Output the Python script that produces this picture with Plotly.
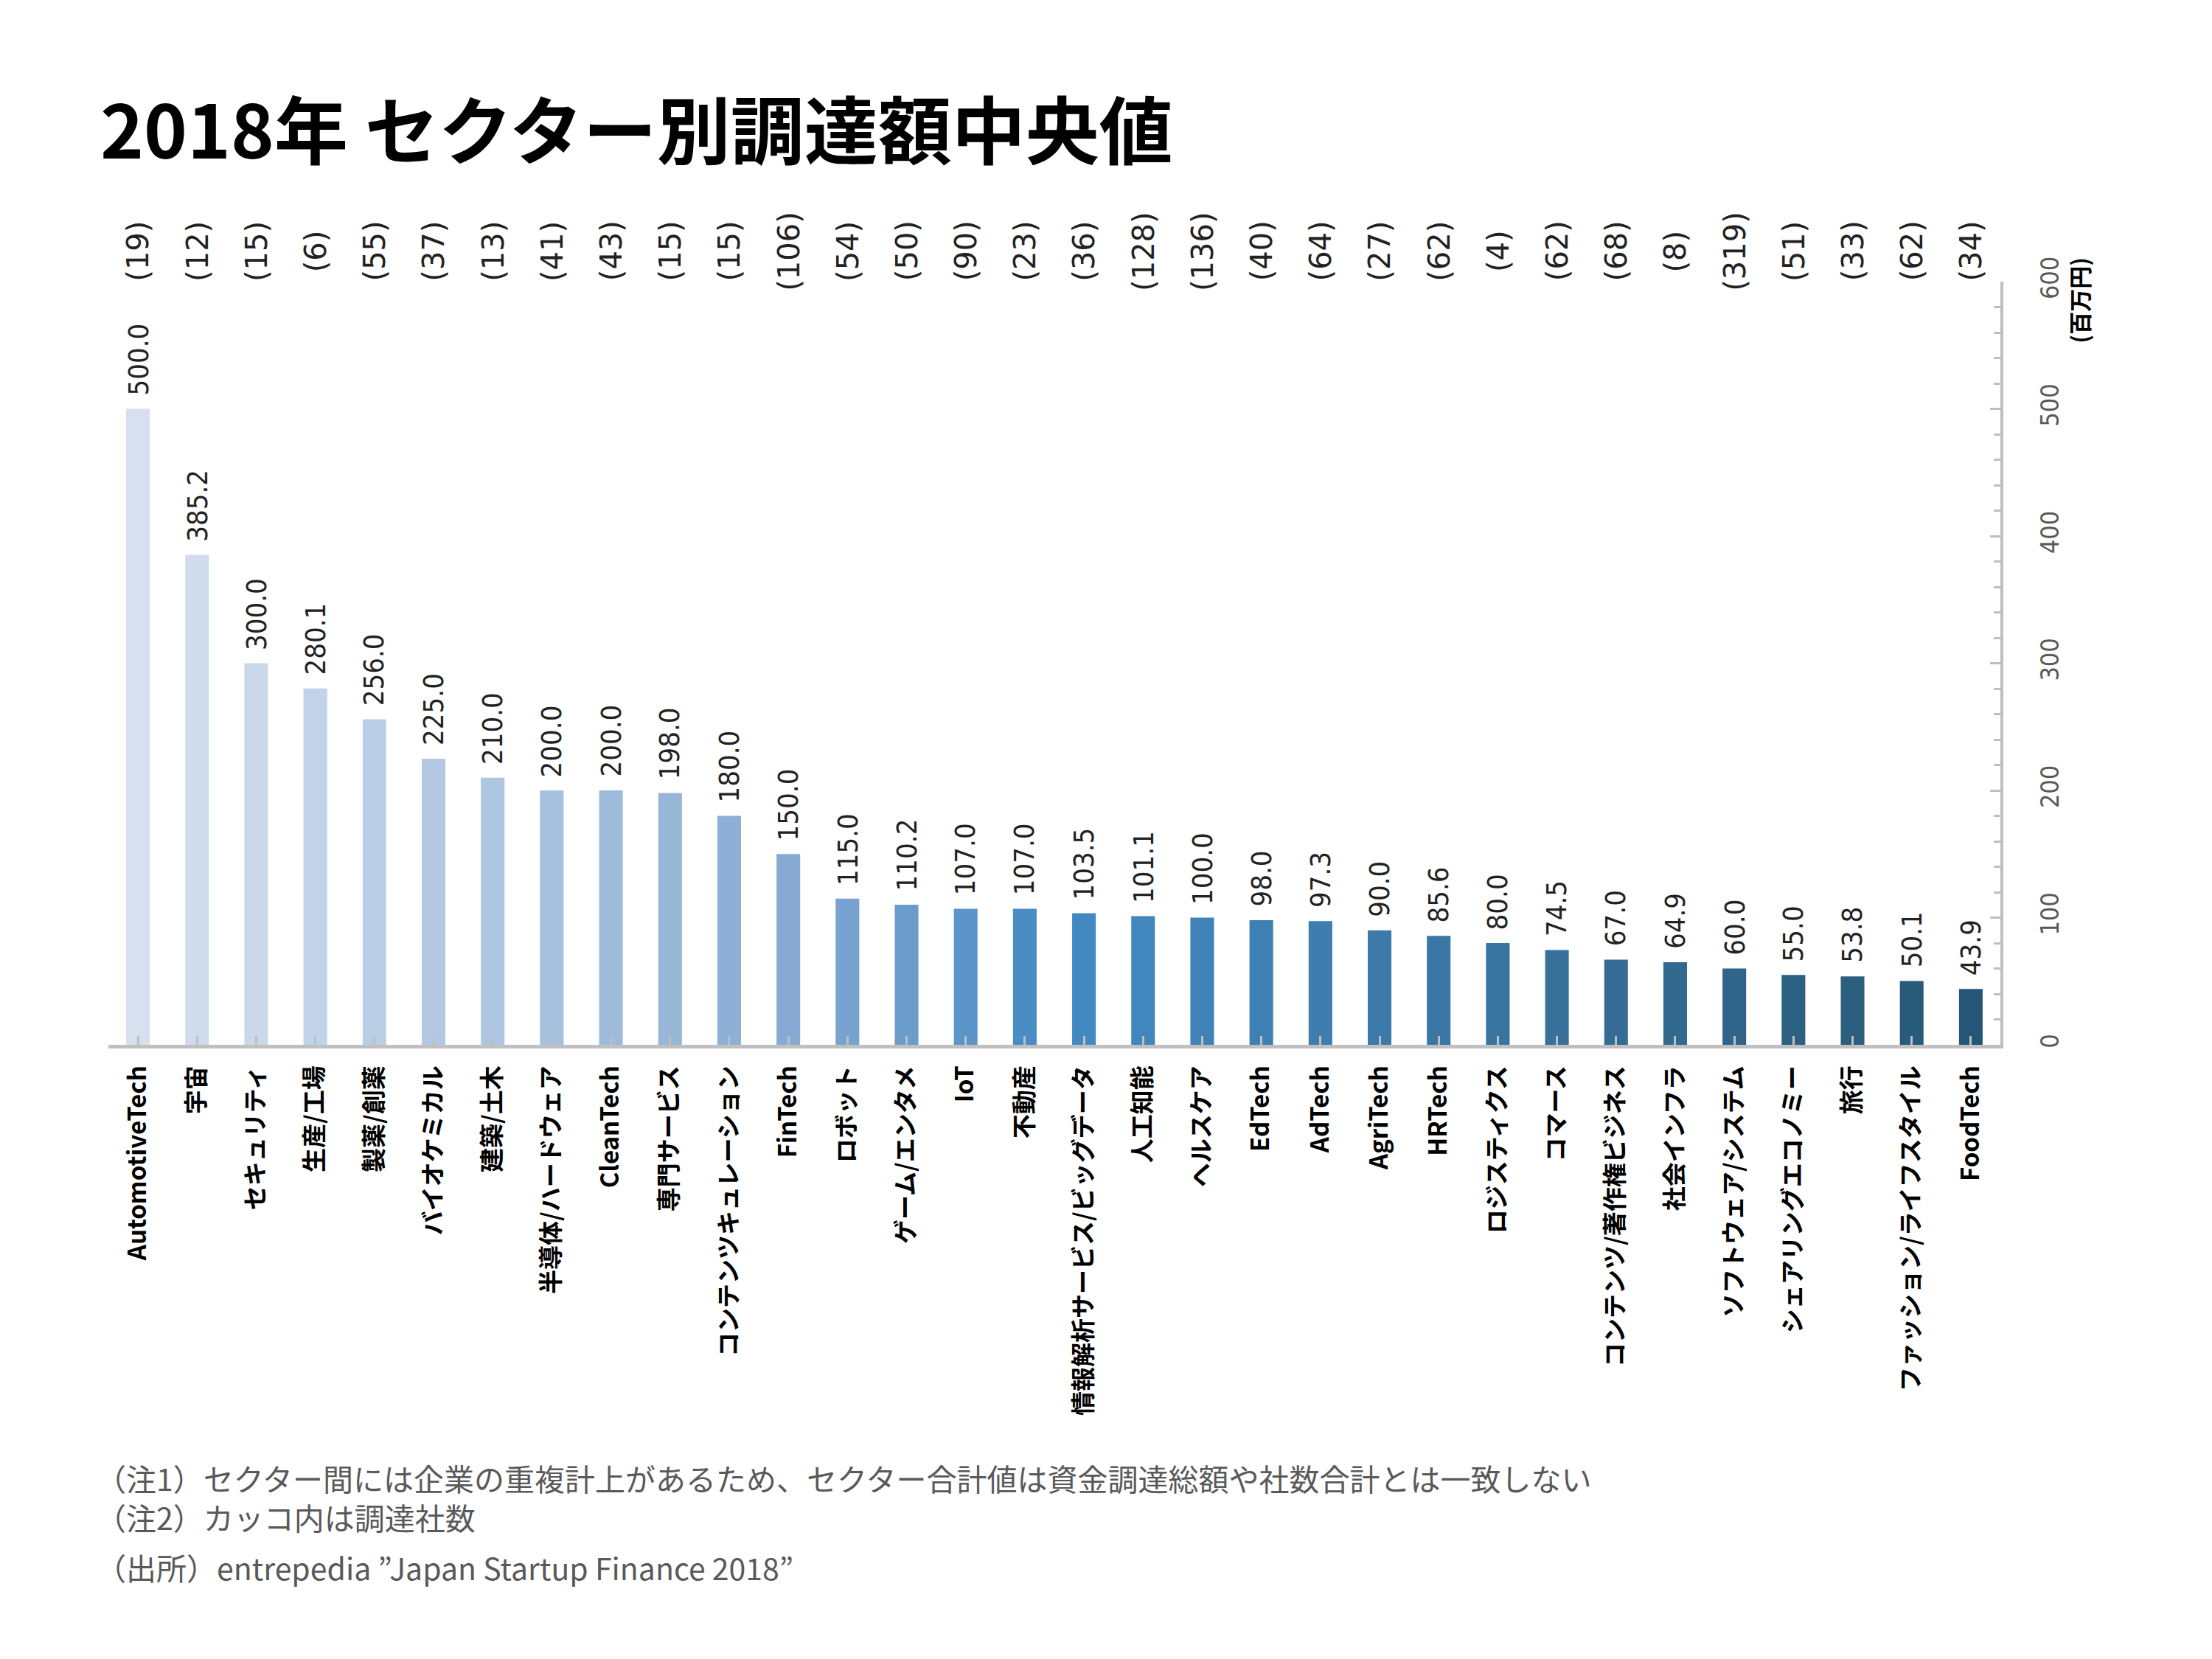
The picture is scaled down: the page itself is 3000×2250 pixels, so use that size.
import plotly.graph_objects as go

categories = ["AutomotiveTech", "宇宙", "セキュリティ", "生産/工場", "製薬/創薬", "バイオケミカル",
              "建築/土木", "半導体/ハードウェア", "CleanTech", "専門サービス", "コンテンツキュレーション",
              "FinTech", "ロボット", "ゲーム/エンタメ", "IoT", "不動産", "情報解析サービス/ビッグデータ",
              "人工知能", "ヘルスケア", "EdTech", "AdTech", "AgriTech", "HRTech", "ロジスティクス",
              "コマース", "コンテンツ/著作権ビジネス", "社会インフラ", "ソフトウェア/システム",
              "シェアリングエコノミー", "旅行", "ファッション/ライフスタイル", "FoodTech"]
values = [500.0, 385.2, 300.0, 280.1, 256.0, 225.0, 210.0, 200.0, 200.0, 198.0, 180.0,
          150.0, 115.0, 110.2, 107.0, 107.0, 103.5, 101.1, 100.0, 98.0, 97.3, 90.0, 85.6,
          80.0, 74.5, 67.0, 64.9, 60.0, 55.0, 53.8, 50.1, 43.9]
counts = [19, 12, 15, 6, 55, 37, 13, 41, 43, 15, 15, 106, 54, 50, 90, 23, 36, 128, 136,
          40, 64, 27, 62, 4, 62, 68, 8, 319, 51, 33, 62, 34]
y_ticks = [0, 100, 200, 300, 400, 500, 600]

bar_colors = ["#D6E0EE", "#CFDCEC", "#C9D8EA", "#C1D3E8", "#BACEE5", "#B3C9E3", "#ADC5E1",
              "#A6C1DE", "#9FBBDB", "#97B6D8", "#8FB0D6", "#86AAD3", "#78A3D0", "#6A9DCC",
              "#5C95C9", "#4A8DC4", "#4389C1", "#4186BD", "#3F83B9", "#3E80B4", "#3D7DAF",
              "#3C7AAA", "#3A77A5", "#3874A0", "#36709B", "#346C95", "#32698F", "#306589",
              "#2D6184", "#2B5E7F", "#285A7A", "#265677"]

JP = "Noto Sans CJK JP"
NARROW = "Liberation Sans Narrow, DejaVu Sans Condensed, Roboto Condensed, Liberation Sans"
AXIS_GREY = "#bfbfbf"

fig = go.Figure(go.Bar(
    x=categories, y=values, marker=dict(color=bar_colors, line=dict(width=0)),
    width=0.4, hoverinfo="skip"))

annotations = []
for c, v, n in zip(categories, values, counts):
    annotations.append(dict(x=c, y=v, xref="x", yref="y", text=f"{v:.1f}", showarrow=False,
                            textangle=-90, yanchor="bottom", xanchor="center", yshift=16,
                            font=dict(family=NARROW, size=38, color="#222222")))
    annotations.append(dict(x=c, y=1.040, xref="x", yref="paper", text=f"({n})",
                            showarrow=False, textangle=-90, yanchor="middle", xanchor="center",
                            font=dict(family="DejaVu Sans", size=40, color="#222222")))

annotations.append(dict(x=-0.005, y=1.203, xref="paper", yref="paper", text="2018年 セクター別調達額中央値",
                        showarrow=False, xanchor="left", yanchor="middle",
                        font=dict(family=JP, size=100, color="#000000", weight=700)))
annotations.append(dict(x=1.0415, y=0.9758, xref="paper", yref="paper", text="(百万円)",
                        showarrow=False, textangle=-90, xanchor="center", yanchor="middle",
                        font=dict(family=JP, size=31, color="#000000", weight=700)))
annotations.append(dict(x=-0.0075, y=-0.5928, xref="paper", yref="paper",
                        text="（注1）セクター間には企業の重複計上があるため、セクター合計値は資金調達総額や社数合計とは一致しない"
                             "<br>（注2）カッコ内は調達社数",
                        showarrow=False, xanchor="left", yanchor="middle", align="left",
                        font=dict(family=JP, size=41, color="#595959")))
annotations.append(dict(x=-0.0075, y=-0.684, xref="paper", yref="paper",
                        text="（出所）entrepedia ”Japan Startup Finance 2018”",
                        showarrow=False, xanchor="left", yanchor="middle", align="left",
                        font=dict(family=JP, size=41, color="#595959")))

fig.update_layout(
    width=3000, height=2250, paper_bgcolor="white", plot_bgcolor="white",
    margin=dict(l=139, r=295, t=374, b=841), showlegend=False,
    annotations=annotations,
    xaxis=dict(type="category", range=[-0.5, 31.5], showline=True, linecolor="#c0c0c0", linewidth=5,
               ticks="inside", ticklen=12, tickwidth=3, tickcolor=AXIS_GREY, tickangle=-90,
               ticklabelstandoff=10, showgrid=False, zeroline=False,
               tickfont=dict(family=JP, size=33, color="#000000", weight=700)),
    yaxis=dict(side="right", range=[0, 600], tickvals=y_ticks, showline=True, linecolor=AXIS_GREY,
               linewidth=4, ticks="inside", ticklen=14, tickwidth=3, tickcolor=AXIS_GREY,
               minor=dict(dtick=20, ticks="inside", ticklen=9, tickwidth=3, tickcolor=AXIS_GREY),
               tickangle=-90, ticklabelstandoff=34, showgrid=False, zeroline=False,
               tickfont=dict(family=NARROW, size=34, color="#595959")),
)

fig.write_html("out.html")
